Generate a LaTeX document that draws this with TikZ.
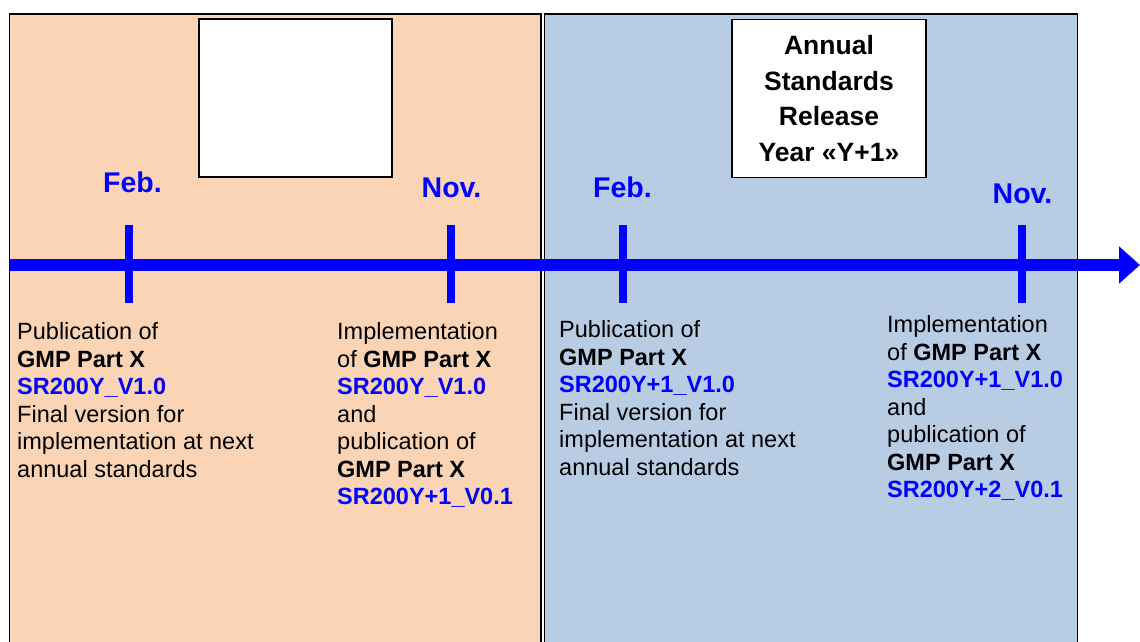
\documentclass[tikz,border=0pt]{standalone}
\usepackage{fontspec}
\setmainfont{Liberation Sans}
\usetikzlibrary{arrows.meta}

\definecolor{peach}{RGB}{250,212,180}
\definecolor{steel}{RGB}{184,204,228}
\definecolor{tlblue}{RGB}{0,0,255}

\newcommand{\gmp}{\textbf{GMP Part X}}
\newcommand{\srv}[1]{\textcolor{tlblue}{\textbf{#1}}}

\begin{document}
\begin{tikzpicture}[x=1pt, y=-1pt,
  panel/.style={draw=black, line width=1.8pt},
  tickmark/.style={draw=tlblue, line width=8pt},
  datelabel/.style={anchor=base, text=tlblue, font=\fontsize{28.5}{30}\selectfont\bfseries},
  textblock/.style={anchor=north west, align=left, inner sep=0pt, font=\fontsize{23.5}{27.5}\selectfont}]

\useasboundingbox (0,0) rectangle (1140,641);

\def\ytop{13.8}; % panel top
\def\ybot{660}; % panel bottom, cut off
\def\yline{265}; % time line
\def\ytt{225}; % tick top
\def\ytb{303}; % tick bottom
\def\ytxt{322.5}; % text top

\def\xla{9.5}; % year Y
\def\xlb{541};
\def\xra{544.5}; % year Y+1
\def\xrb{1077.5};

\filldraw[fill=peach, panel] (\xla, \ytop) rectangle (\xlb, \ybot);
\filldraw[fill=steel, panel] (\xra, \ytop) rectangle (\xrb, \ybot);

\node[draw, fill=white, line width=1.8pt, minimum width=193pt, minimum height=158pt, inner sep=0pt] (blank) at (295.5, 98) {};
\node[draw, fill=white, line width=1.8pt, minimum width=194pt, minimum height=158pt, inner sep=0pt,
  align=center, font=\fontsize{26.5}{35.7}\selectfont\bfseries] (release) at (829, 98.5)
  {Annual\\Standards\\Release\\Year «Y+1»};

% time line
\coordinate (tstart) at (\xla, \yline);
\coordinate (tend) at (1140, \yline);
\draw[tlblue, line width=12pt, -{Triangle[length=21pt,width=36pt]}] (tstart) -- (tend);

\foreach \x/\n in {129/feba, 451/nova, 623/febb, 1022/novb}{
  \coordinate (\n top) at (\x, \ytt);
  \coordinate (\n bot) at (\x, \ytb);
  \draw[tickmark] (\n top) -- (\n bot);
}

\node[datelabel] (feba) at (132.5, 192) {Feb.};
\node[datelabel] (nova) at (451.5, 197) {Nov.};
\node[datelabel] (febb) at (622.5, 197) {Feb.};
\node[datelabel] (novb) at (1022.5, 203) {Nov.};

\node[textblock] (puba) at (17, \ytxt) {Publication of\\\gmp\\\srv{SR200Y\_V1.0}\\Final version for\\implementation at next\\annual standards};
\node[textblock] (impa) at (337, \ytxt) {Implementation\\of \gmp\\\srv{SR200Y\_V1.0}\\and\\publication of\\\gmp\\\srv{SR200Y+1\_V0.1}};
\node[textblock] (pubb) at (559, \ytxt-2) {Publication of\\\gmp\\\srv{SR200Y+1\_V1.0}\\Final version for\\implementation at next\\annual standards};
\node[textblock] (impb) at (887, \ytxt-7) {Implementation\\of \gmp\\\srv{SR200Y+1\_V1.0}\\and\\publication of\\\gmp\\\srv{SR200Y+2\_V0.1}};

\end{tikzpicture}
\end{document}
